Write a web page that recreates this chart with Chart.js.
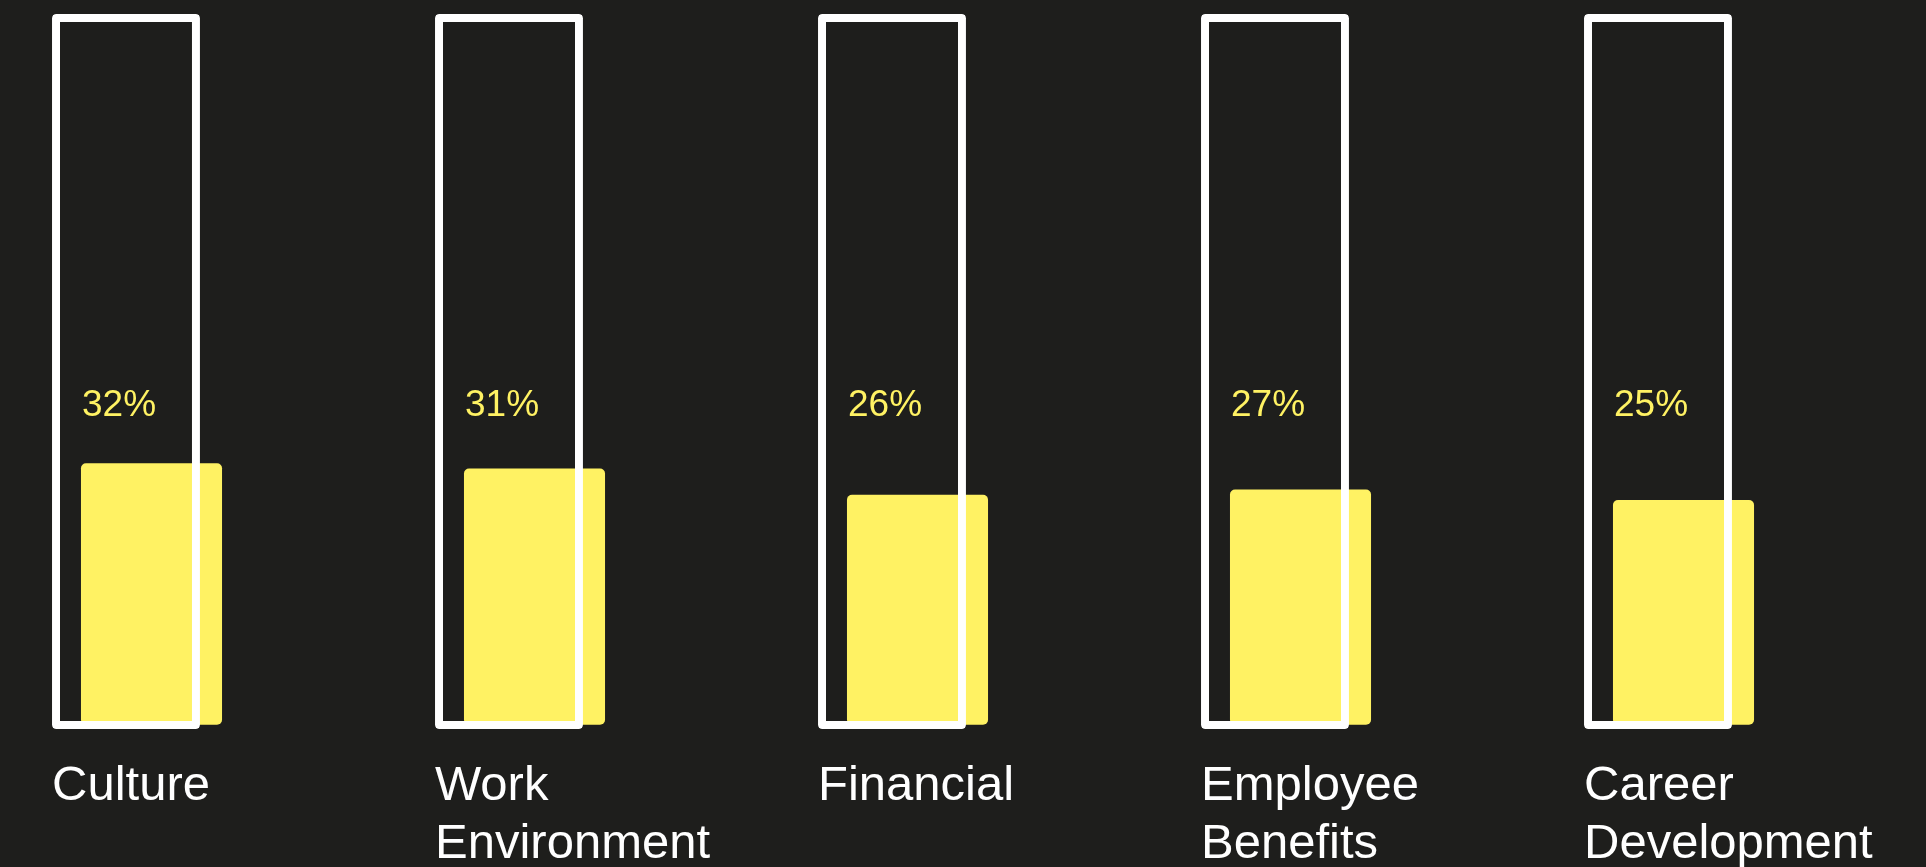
<!DOCTYPE html>
<html lang="en">
<head>
<meta charset="utf-8">
<title>What matters most at work</title>
<script src="https://cdn.jsdelivr.net/npm/chart.js@4.4.1/dist/chart.umd.min.js"></script>
<style>
  html, body { margin: 0; padding: 0; background: #1e1e1c; overflow: hidden; }
  .chart-wrap { position: relative; width: 1926px; height: 867px; }
</style>
</head>
<body>
<div class="chart-wrap"><canvas id="priorityChart"></canvas></div>
<script>
// Categories (multi-line labels as arrays), shares in percent, and the full-height frames
const categories = [['Culture'], ['Work', 'Environment'], ['Financial'], ['Employee', 'Benefits'], ['Career', 'Development']];
const shareValues = [32, 31, 26, 27, 25];
const frameValues = [100, 100, 100, 100, 100];

const YELLOW = '#fff263';
const FONT = '"Liberation Sans", Arial, sans-serif';

// Percent labels sit at a common level, left-aligned with each yellow bar
const percentLabels = {
  id: 'percentLabels',
  afterDatasetsDraw(chart) {
    const meta = chart.getDatasetMeta(1);
    const y = chart.scales.y.getPixelForValue(41);
    const ctx = chart.ctx;
    ctx.save();
    ctx.font = '37px ' + FONT;
    ctx.fillStyle = YELLOW;
    ctx.textAlign = 'left';
    ctx.textBaseline = 'alphabetic';
    meta.data.forEach((bar, i) => {
      ctx.fillText(shareValues[i] + '%', bar.x - bar.width / 2 + 1, y);
    });
    ctx.restore();
  }
};

document.addEventListener('DOMContentLoaded', function() {
  const ctx = document.getElementById('priorityChart').getContext('2d');
  const priorityChart = new Chart(ctx, {
    type: 'bar',
    data: {
      labels: categories,
      datasets: [
        {
          label: 'Frame',
          data: frameValues,
          yAxisID: 'frame',
          order: 0,
          backgroundColor: 'rgba(0, 0, 0, 0)',
          borderColor: '#ffffff',
          borderWidth: 8,
          borderRadius: 4,
          borderSkipped: false,
          barPercentage: 5.8,
          categoryPercentage: 0.1332,
          clip: false
        },
        {
          label: 'Share',
          data: shareValues,
          yAxisID: 'y',
          order: 1,
          base: -17.8,
          backgroundColor: YELLOW,
          borderWidth: 0,
          borderRadius: 5,
          borderSkipped: false,
          barPercentage: 5.53,
          categoryPercentage: 0.1332,
          clip: false
        }
      ]
    },
    options: {
      responsive: true,
      maintainAspectRatio: false,
      animation: false,
      layout: {
        padding: { left: 138.75, right: 255.25, top: 14, bottom: 0 }
      },
      plugins: {
        legend: { display: false },
        tooltip: { enabled: false }
      },
      scales: {
        x: {
          offset: false,
          border: { display: false },
          grid: { display: false, drawTicks: false },
          ticks: {
            color: '#ffffff',
            align: 'start',
            labelOffset: -86.75,
            padding: 29,
            autoSkip: false,
            maxRotation: 0,
            font: { family: FONT, size: 49, lineHeight: 1.17 }
          },
          afterFit: function(scale) {
            scale.height = 138;
            scale.paddingLeft = 0;
            scale.paddingRight = 0;
          }
        },
        y: {
          display: false,
          min: -18.6,
          max: 117.6
        },
        frame: {
          display: false,
          min: 0,
          max: 100
        }
      }
    },
    plugins: [percentLabels]
  });
});
</script>
</body>
</html>
